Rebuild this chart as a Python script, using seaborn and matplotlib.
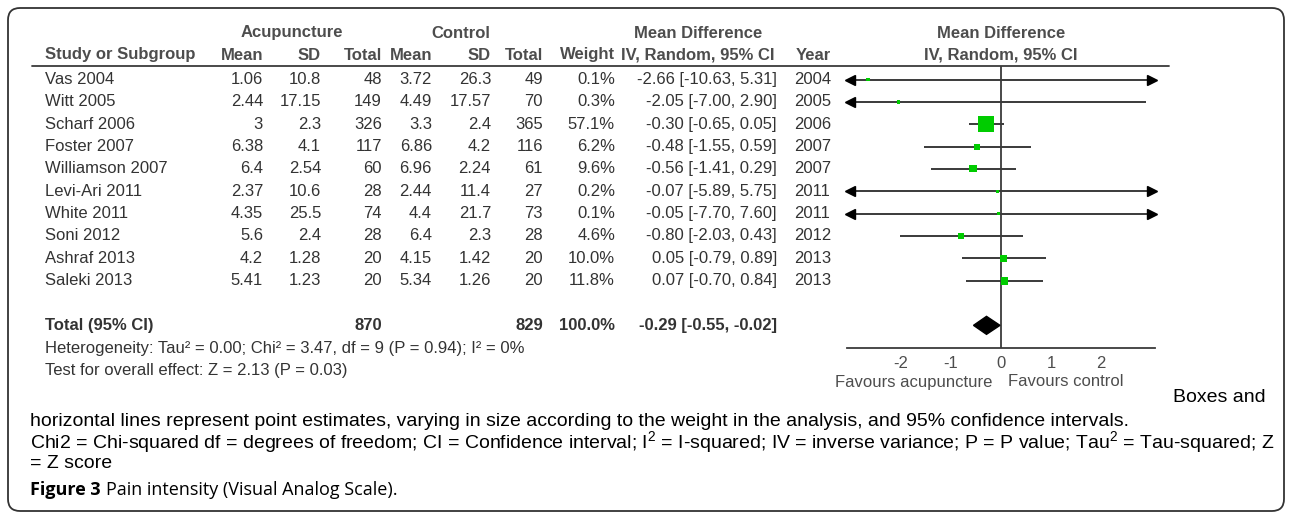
import numpy as np
import pandas as pd
import seaborn as sns
import matplotlib.pyplot as plt
from matplotlib.patches import FancyBboxPatch, Polygon

# study level data
studies = ['Vas 2004', 'Witt 2005', 'Scharf 2006', 'Foster 2007', 'Williamson 2007',
           'Levi-Ari 2011', 'White 2011', 'Soni 2012', 'Ashraf 2013', 'Saleki 2013']
acu_mean = [1.06, 2.44, 3, 6.38, 6.4, 2.37, 4.35, 5.6, 4.2, 5.41]
acu_sd = [10.8, 17.15, 2.3, 4.1, 2.54, 10.6, 25.5, 2.4, 1.28, 1.23]
acu_total = [48, 149, 326, 117, 60, 28, 74, 28, 20, 20]
ctl_mean = [3.72, 4.49, 3.3, 6.86, 6.96, 2.44, 4.4, 6.4, 4.15, 5.34]
ctl_sd = [26.3, 17.57, 2.4, 4.2, 2.24, 11.4, 21.7, 2.3, 1.42, 1.26]
ctl_total = [49, 70, 365, 116, 61, 27, 73, 28, 20, 20]
weight = [0.1, 0.3, 57.1, 6.2, 9.6, 0.2, 0.1, 4.6, 10.0, 11.8]
md = [-2.66, -2.05, -0.30, -0.48, -0.56, -0.07, -0.05, -0.80, 0.05, 0.07]
ci_low = [-10.63, -7.00, -0.65, -1.55, -1.41, -5.89, -7.70, -2.03, -0.79, -0.70]
ci_high = [5.31, 2.90, 0.05, 0.59, 0.29, 5.75, 7.60, 0.43, 0.89, 0.84]
years = [2004, 2005, 2006, 2007, 2007, 2011, 2011, 2012, 2013, 2013]

total_acu, total_ctl = 870, 829
total_md, total_low, total_high = -0.29, -0.55, -0.02
xticks = [-2, -1, 0, 1, 2]

df = pd.DataFrame({'study': studies, 'md': md, 'low': ci_low, 'high': ci_high,
                   'weight': weight})
df['row'] = np.arange(len(df))
total_row = len(df) + 1

sns.set_style('white')
plt.rcParams['font.family'] = ['Liberation Sans', 'DejaVu Sans']

W, H = 1292, 520
ROW0, DY = 79.5, 22.35
TXT = '#333333'
HEAD = '#4d4d4d'
LINE = '#3a3a3a'
fs = 12


def ypix(r):
    return ROW0 + DY * r


fig = plt.figure(figsize=(W / 100, H / 100), dpi=100)
bg = fig.add_axes([0, 0, 1, 1])
bg.set_xlim(0, W)
bg.set_ylim(H, 0)
bg.axis('off')

bg.add_patch(FancyBboxPatch((8, 8), W - 16, H - 17, boxstyle='round,pad=0,rounding_size=12',
                            fc='none', ec='#333333', lw=1.3))

# headers
bg.text(292, 33, 'Acupuncture', ha='center', va='center', fontsize=fs, weight='bold', color=HEAD)
bg.text(461, 33, 'Control', ha='center', va='center', fontsize=fs, weight='bold', color=HEAD)
bg.text(698, 33, 'Mean Difference', ha='center', va='center', fontsize=fs, weight='bold', color=HEAD)
bg.text(1001, 33, 'Mean Difference', ha='center', va='center', fontsize=fs, weight='bold', color=HEAD)
bg.text(45, 55, 'Study or Subgroup', ha='left', va='center', fontsize=fs, weight='bold', color=HEAD)
cols = [(263, 'Mean'), (321, 'SD'), (382, 'Total'), (432, 'Mean'), (491, 'SD'),
        (543, 'Total'), (615, 'Weight')]
for x, lab in cols:
    bg.text(x, 55, lab, ha='right', va='center', fontsize=fs, weight='bold', color=HEAD)
bg.text(698, 55, 'IV, Random, 95% CI', ha='center', va='center', fontsize=fs, weight='bold', color=HEAD)
bg.text(796, 55, 'Year', ha='left', va='center', fontsize=fs, weight='bold', color=HEAD)
bg.text(1001, 55, 'IV, Random, 95% CI', ha='center', va='center', fontsize=fs, weight='bold', color=HEAD)
bg.plot([32, 1169], [66, 66], color=LINE, lw=1.3)

# study rows
for i in range(len(studies)):
    y = ypix(i)
    bg.text(45, y, studies[i], ha='left', va='center', fontsize=fs, color=TXT)
    vals = [f'{acu_mean[i]:g}', f'{acu_sd[i]:g}', str(acu_total[i]), f'{ctl_mean[i]:g}',
            f'{ctl_sd[i]:g}', str(ctl_total[i]), f'{weight[i]:.1f}%']
    for (x, _), v in zip(cols, vals):
        bg.text(x, y, v, ha='right', va='center', fontsize=fs, color=TXT)
    bg.text(777, y, f'{md[i]:.2f} [{ci_low[i]:.2f}, {ci_high[i]:.2f}]', ha='right',
            va='center', fontsize=fs, color=TXT)
    bg.text(794, y, str(years[i]), ha='left', va='center', fontsize=fs, color=TXT)

# total row
yt = ypix(total_row)
bg.text(45, yt, 'Total (95% CI)', ha='left', va='center', fontsize=fs, weight='bold', color=TXT)
bg.text(382, yt, str(total_acu), ha='right', va='center', fontsize=fs, weight='bold', color=TXT)
bg.text(543, yt, str(total_ctl), ha='right', va='center', fontsize=fs, weight='bold', color=TXT)
bg.text(615, yt, f'{sum(weight):.1f}%', ha='right', va='center', fontsize=fs, weight='bold', color=TXT)
bg.text(777, yt, f'{total_md:.2f} [{total_low:.2f}, {total_high:.2f}]', ha='right',
        va='center', fontsize=fs, weight='bold', color=TXT)
bg.text(45, yt + 23, 'Heterogeneity: Tau\u00b2 = 0.00; Chi\u00b2 = 3.47, df = 9 (P = 0.94); I\u00b2 = 0%',
        ha='left', va='center', fontsize=fs, color=TXT)
bg.text(45, yt + 45, 'Test for overall effect: Z = 2.13 (P = 0.03)',
        ha='left', va='center', fontsize=fs, color=TXT)

# forest panel
lim = 3.08
ax = fig.add_axes([847 / W, (H - 348) / H, 308 / W, (348 - 66) / H])
ax.set_xlim(-lim, lim)
ax.set_ylim((348 - ROW0) / DY, (66 - ROW0) / DY)
ax.patch.set_alpha(0)
for s in ['top', 'left', 'right']:
    ax.spines[s].set_visible(False)
ax.spines['bottom'].set_color(LINE)
ax.spines['bottom'].set_linewidth(1.3)
ax.set_yticks([])
ax.set_xticks(xticks)
ax.set_xticklabels([str(t) for t in xticks])
ax.tick_params(axis='x', direction='inout', length=10, width=1.2, color=LINE,
               labelsize=fs, labelcolor=HEAD, pad=1)
ax.axvline(0, color=LINE, lw=1.3, zorder=1)

ax.hlines(df['row'], df['low'].clip(lower=-lim), df['high'].clip(upper=lim),
          color=LINE, lw=1.4, zorder=2)
left = df[df['low'] < -lim]
right = df[df['high'] > lim]
ax.plot(np.full(len(left), -lim + 0.06), left['row'], '<', color='black', ms=7,
        clip_on=False, zorder=3)
ax.plot(np.full(len(right), lim - 0.06), right['row'], '>', color='black', ms=7,
        clip_on=False, zorder=3)
sns.scatterplot(data=df, x='md', y='row', size='weight', sizes=(5, 132), size_norm=(0, 57.1),
                marker='s', color='#00cc00', linewidth=0, legend=False, ax=ax, zorder=4)
ax.set_xlabel('')
ax.set_ylabel('')
h = 9 / DY
ax.add_patch(Polygon([(total_low, total_row), (total_md, total_row - h),
                      (total_high, total_row), (total_md, total_row + h)],
                     closed=True, fc='black', ec='black', zorder=4))

bg.text(992, 382, 'Favours acupuncture', ha='right', va='center', fontsize=fs, color=HEAD)
bg.text(1008, 382, 'Favours control', ha='left', va='center', fontsize=fs, color=HEAD)

# caption
cfs = 14
sup = '$\\mathregular{^2}$'
bg.text(1173, 398, 'Boxes and', ha='left', va='center', fontsize=cfs, color='black')
bg.text(30, 421, 'horizontal lines represent point estimates, varying in size according to the '
        'weight in the analysis, and 95% confidence intervals.', ha='left', va='center',
        fontsize=cfs, color='black')
bg.text(30, 442, 'Chi2 = Chi-squared df = degrees of freedom; CI = Confidence interval; I' + sup +
        ' = I-squared; IV = inverse variance; P = P value; Tau' + sup + ' = Tau-squared; Z',
        ha='left', va='center', fontsize=cfs, color='black')
bg.text(30, 463, '= Z score', ha='left', va='center', fontsize=cfs, color='black')

t1 = bg.text(30, 490, 'Figure 3', ha='left', va='center', fontsize=13, weight='bold',
             family=['Open Sans', 'DejaVu Sans'], color='black')
fig.canvas.draw()
bb = t1.get_window_extent()
bg.text(bb.x1 + 5, 490, 'Pain intensity (Visual Analog Scale).', ha='left', va='center',
        fontsize=13, family=['Open Sans', 'DejaVu Sans'], color='black')

fig.savefig('out.png', dpi=100)
